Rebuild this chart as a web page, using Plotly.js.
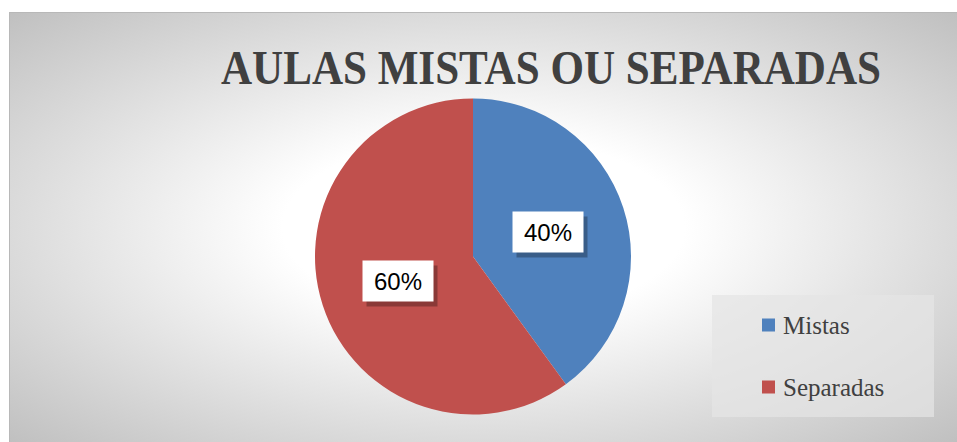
<!DOCTYPE html>
<html>
<head>
<meta charset="utf-8">
<script src="https://cdn.plot.ly/plotly-3.0.1.min.js"></script>
<style>
  html, body { margin: 0; padding: 0; background: #ffffff; }
  #wrap { position: relative; width: 957px; height: 442px; overflow: hidden; }
  #bg { position: absolute; left: 9px; top: 12px; width: 948px; height: 430px;
        border-top: 1px solid #b8b8b8; border-left: 1px solid #b8b8b8; box-sizing: border-box;
        background: radial-gradient(ellipse farthest-corner at 50% 50%, #ffffff 0%, #ffffff 30%, #c0c0c0 100%); }
  #chart { position: absolute; left: 0; top: 0; width: 957px; height: 442px; }
</style>
</head>
<body>
<div id="wrap">
  <div id="bg"></div>
  <div id="chart"></div>
</div>
<script>
// ---- data ----
const chartTitle = 'AULAS MISTAS OU SEPARADAS';
const labels = ['Mistas', 'Separadas'];
const values = [40, 60];
const colors = ['#4F81BD', '#C0504D'];

// ---- layout geometry (styling) ----
const W = 957, H = 442;
const cxPx = 473, cyPx = 256.5, rPx = 158;
const domX = [(cxPx - rPx) / W, (cxPx + rPx) / W];
const domY = [(H - cyPx - rPx) / H, (H - cyPx + rPx) / H];

const trace = {
  type: 'pie',
  labels: labels,
  values: values,
  sort: false,
  direction: 'clockwise',
  rotation: 0,
  marker: { colors: colors, line: { width: 0 } },
  textinfo: 'none',
  hoverinfo: 'skip',
  showlegend: false,
  domain: { x: domX, y: domY }
};

// percentage labels in white boxes, placed at the middle angle of each slice
const total = values.reduce((a, b) => a + b, 0);
const annotations = [];
let cum = 0;
values.forEach((v, i) => {
  const mid = (cum + v / 2) / total * 2 * Math.PI; // clockwise from 12 o'clock
  cum += v;
  const px = cxPx + 0.5 * rPx * Math.sin(mid);
  const py = cyPx - 0.5 * rPx * Math.cos(mid);
  const pct = Math.round(v / total * 100) + '%';
  const common = {
    xref: 'paper', yref: 'paper', x: px / W, y: 1 - py / H,
    xanchor: 'center', yanchor: 'middle', showarrow: false,
    width: 70, height: 40, borderpad: 0
  };
  annotations.push(Object.assign({}, common, {
    text: ' ', bgcolor: 'rgba(0,0,0,0.28)', xshift: 4, yshift: -5
  }));
  annotations.push(Object.assign({}, common, {
    text: pct, bgcolor: '#ffffff',
    font: { family: 'Liberation Sans, Arial, sans-serif', size: 24, color: '#000000' }
  }));
});

// manual legend
const legBox = { x0: 712, x1: 934, y0: 295, y1: 417 };
const shapes = [{
  type: 'rect', xref: 'paper', yref: 'paper', layer: 'below',
  x0: legBox.x0 / W, x1: legBox.x1 / W, y0: 1 - legBox.y1 / H, y1: 1 - legBox.y0 / H,
  fillcolor: 'rgba(228,228,228,0.72)', line: { width: 0 }
}];
const legItemY = [325, 387];
labels.forEach((lab, i) => {
  const yc = legItemY[i];
  shapes.push({
    type: 'rect', xref: 'paper', yref: 'paper',
    x0: 762 / W, x1: 775 / W, y0: 1 - (yc + 6.5) / H, y1: 1 - (yc - 6.5) / H,
    fillcolor: colors[i], line: { width: 0 }
  });
  annotations.push({
    xref: 'paper', yref: 'paper', x: 781 / W, y: 1 - yc / H,
    xanchor: 'left', yanchor: 'middle', showarrow: false, text: lab,
    font: { family: 'Liberation Serif, Times New Roman, serif', size: 25, color: '#404040' }
  });
});

const layout = {
  width: W, height: H,
  margin: { l: 0, r: 0, t: 0, b: 0 },
  paper_bgcolor: 'rgba(0,0,0,0)',
  plot_bgcolor: 'rgba(0,0,0,0)',
  title: {
    text: '<b>' + chartTitle + '</b>',
    font: { family: 'Liberation Serif, Times New Roman, serif', size: 48, color: '#404040' },
    xref: 'paper', x: 551 / W, xanchor: 'center',
    yref: 'container', y: 1 - 67.2 / H, yanchor: 'middle'
  },
  showlegend: false,
  shapes: shapes,
  annotations: annotations
};

Plotly.newPlot('chart', [trace], layout, { displayModeBar: false, staticPlot: true }).then(gd => {
  const t = gd.querySelector('.gtitle');
  if (t) {
    t.setAttribute('textLength', '660');
    t.setAttribute('lengthAdjust', 'spacingAndGlyphs');
  }
});
</script>
</body>
</html>
